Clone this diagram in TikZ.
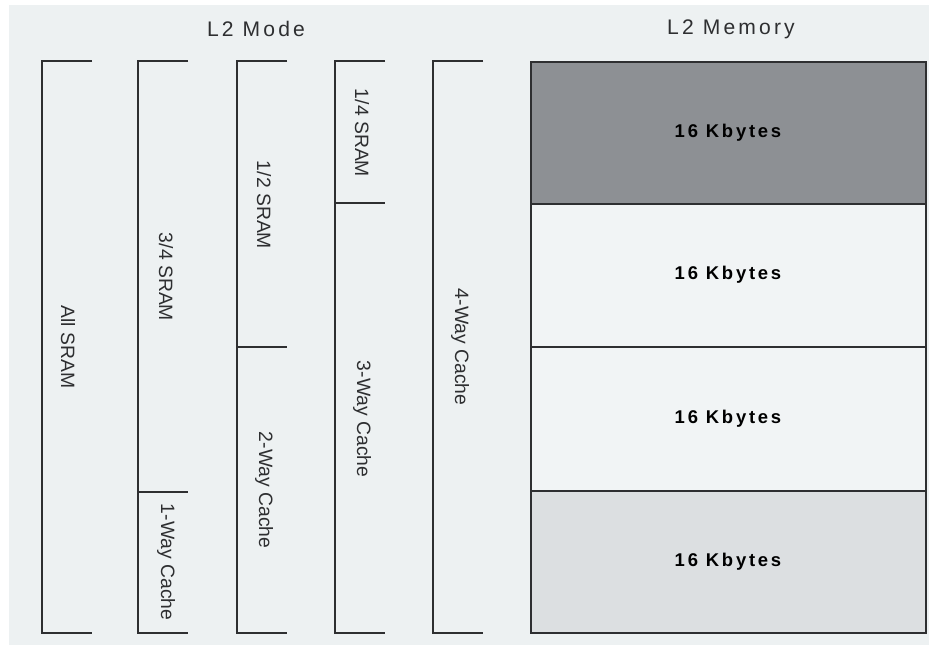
\documentclass[tikz,border=0pt]{standalone}
\usepackage{fontspec}
\setmainfont{Liberation Sans}
\newfontfamily\widefont[LetterSpace=15]{Liberation Sans}
\usepackage{xcolor}
\definecolor{paper}{HTML}{EDF1F2}
\definecolor{inkgray}{HTML}{2E2F31}
\definecolor{darkblock}{HTML}{8D9094}
\definecolor{lightblock}{HTML}{F1F4F5}
\definecolor{midblock}{HTML}{DCDFE1}

\begin{document}
\begin{tikzpicture}[x=0.02cm, y=-0.02cm,
    bracket/.style={draw=inkgray, line width=0.9pt},
    modelabel/.style={rotate=-90, text=inkgray, font=\fontsize{11}{13}\selectfont},
    heading/.style={text=inkgray, font=\widefont\fontsize{12}{14}\selectfont},
    memlabel/.style={text=black, font=\widefont\bfseries\fontsize{10.5}{12}\selectfont},
    memblock/.style={draw=inkgray, line width=0.9pt}]

    \useasboundingbox (0,0) rectangle (935,647);
    \fill[paper] (9,5) rectangle (929,645);

    % Headings
    \node[heading] (modehead) at (256,29) {L2 Mode};
    \node[heading] (memhead) at (731,29) {L2 Memory};

    % Mode brackets
    \draw[bracket] (92,61) -| (42,633) -- (92,633);
    \draw[bracket] (188,61) -| (138,633) -- (188,633);
    \draw[bracket] (138,492) -- (188,492);
    \draw[bracket] (287,61) -| (237,633) -- (287,633);
    \draw[bracket] (237,347) -- (287,347);
    \draw[bracket] (385,61) -| (335,633) -- (385,633);
    \draw[bracket] (335,203) -- (385,203);
    \draw[bracket] (483,61) -| (433,633) -- (483,633);

    % Mode labels
    \node[modelabel] (allsram) at (68,347) {All SRAM};
    \node[modelabel] (sram34) at (166,277) {3/4 SRAM};
    \node[modelabel] (way1) at (166,562) {1-Way Cache};
    \node[modelabel] (sram12) at (264,205) {1/2 SRAM};
    \node[modelabel] (way2) at (264,490) {2-Way Cache};
    \node[modelabel] (sram14) at (362,133) {1/4 SRAM};
    \node[modelabel] (way3) at (362,419) {3-Way Cache};
    \node[modelabel] (way4) at (460,347) {4-Way Cache};

    % Memory blocks
    \fill[darkblock] (531,62) rectangle (926,204);
    \fill[lightblock] (531,204) rectangle (926,491);
    \fill[midblock] (531,491) rectangle (926,633);
    \draw[memblock] (531,62) rectangle (926,633);
    \draw[memblock] (531,204) -- (926,204);
    \draw[memblock] (531,347) -- (926,347);
    \draw[memblock] (531,491) -- (926,491);

    \node[memlabel] (bank1) at (728,133) {16 Kbytes};
    \node[memlabel] (bank2) at (728,275) {16 Kbytes};
    \node[memlabel] (bank3) at (728,419) {16 Kbytes};
    \node[memlabel] (bank4) at (728,562) {16 Kbytes};

\end{tikzpicture}
\end{document}
